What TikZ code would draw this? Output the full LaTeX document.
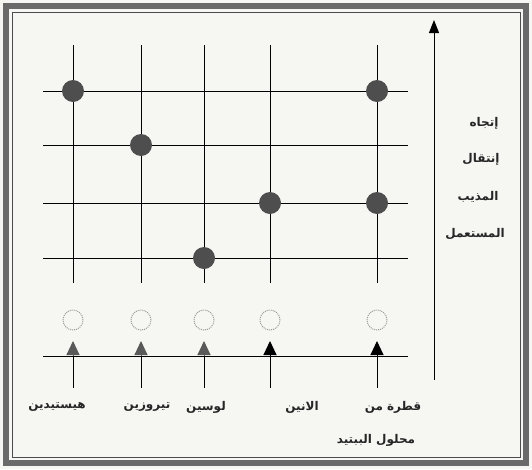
\documentclass[tikz,border=0pt]{standalone}
\usepackage{fontspec}
\usetikzlibrary{arrows.meta}
\newfontfamily\arabicfont[Script=Arabic]{DejaVu Sans}
\TeXXeTstate=1
\definecolor{paper}{HTML}{F6F6F3}
\definecolor{dotgray}{HTML}{4E4E4E}
\definecolor{framegray}{HTML}{6A6A6A}
\tikzset{
  gridline/.style={line width=1pt, black},
  spot/.style={circle, fill=dotgray, inner sep=0pt, minimum size=22pt},
  ghost/.style={circle, draw=gray!80, densely dotted, line width=1pt, inner sep=0pt, minimum size=20pt},
  lab/.style={font=\arabicfont\bfseries\fontsize{12}{14}\selectfont, text=black!85, inner sep=1pt},
  uparrow/.style={line width=1pt, -{Triangle[length=14pt,width=13pt]}},
}
\begin{document}
\begin{tikzpicture}[x=1pt,y=-1pt]
\useasboundingbox (0,0) rectangle (532,469);
\fill[paper] (0,0) rectangle (532,469);
% frame
\draw[framegray, line width=6pt] (6,6) rectangle (526,463);
\draw[black!70, line width=0.8pt] (12,12) rectangle (520,457);
% grid columns
\foreach \n/\x in {a/73,b/141,c/204,d/270,e/377}{
  \coordinate (top\n) at (\x,45);
  \coordinate (bot\n) at (\x,283);
  \draw[gridline] (top\n) -- (bot\n);
}
% grid rows
\foreach \n/\y in {1/91,2/145,3/203,4/258}{
  \coordinate (l\n) at (43,\y);
  \coordinate (r\n) at (408,\y);
  \draw[gridline] (l\n) -- (r\n);
}
% spots
\node[spot] (s1) at (73,91) {};
\node[spot] (s2) at (377,91) {};
\node[spot] (s3) at (141,145) {};
\node[spot] (s4) at (270,203) {};
\node[spot] (s5) at (377,203) {};
\node[spot] (s6) at (204,258) {};
% ghost circles
\foreach \n/\x in {a/73,b/141,c/204,d/270,e/377}{
  \node[ghost] (g\n) at (\x,320) {};
}
% base line
\coordinate (bl) at (43,356);
\coordinate (br) at (408,356);
\draw[gridline] (bl) -- (br);
% arrows
\foreach \n/\x/\c in {a/73/gray!70!black,b/141/gray!70!black,c/204/gray!70!black,d/270/black,e/377/black}{
  \coordinate (as\n) at (\x,388);
  \coordinate (at\n) at (\x,341);
  \draw[uparrow, color=\c] (as\n) -- (at\n);
  \draw[line width=1pt] (as\n) -- (\x,356);
}
% axis
\coordinate (ax0) at (434,380);
\coordinate (ax1) at (434,20);
\draw[line width=1pt, -{Triangle[length=13pt,width=10pt]}] (ax0) -- (ax1);
% labels
\node[lab] (t1) at (484,123) {\beginR إتجاه\endR};
\node[lab] (t2) at (481,159) {\beginR إنتقال\endR};
\node[lab] (t3) at (478,197) {\beginR المذيب\endR};
\node[lab] (t4) at (475,234) {\beginR المستعمل\endR};
\node[lab] (b1) at (57,407) {\beginR هيستيدين\endR};
\node[lab] (b2) at (147,407) {\beginR تيروزين\endR};
\node[lab] (b3) at (206,407) {\beginR لوسين\endR};
\node[lab] (b4) at (302,407) {\beginR الانين\endR};
\node[lab] (b5) at (393,407) {\beginR قطرة من\endR};
\node[lab] (b6) at (376,440) {\beginR محلول الببتيد\endR};
\end{tikzpicture}
\end{document}
